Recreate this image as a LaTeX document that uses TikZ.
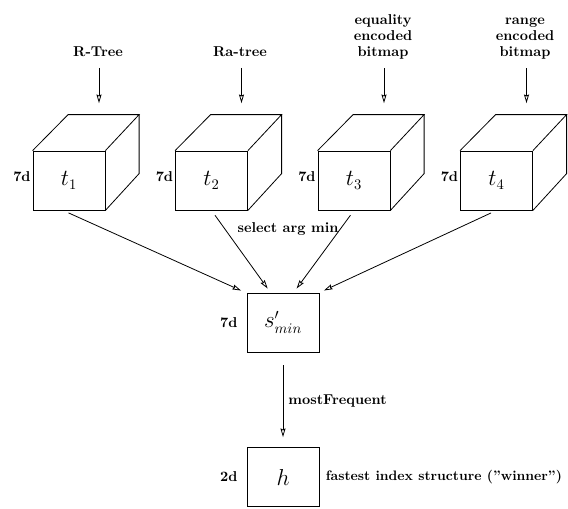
\documentclass[tikz,border=0pt]{standalone}
\usetikzlibrary{arrows.meta}
\begin{document}
\begin{tikzpicture}[x=0.75pt,y=-0.75pt,
  line width=0.6pt,
  face/.style={draw,rectangle,inner sep=0pt,minimum width=54pt,minimum height=44.25pt,font=\fontsize{16}{18}\selectfont},
  lbl/.style={font=\fontsize{10.7}{12}\selectfont\bfseries,inner sep=0pt,align=center},
  arr/.style={-{Stealth[open,length=6.5pt,width=3.8pt,inset=0.8pt]}},
  cubeside/.style={line join=miter}]
\useasboundingbox (0,0) rectangle (568,508);

% cubes
\foreach \i/\cx in {1/69,2/211.5,3/354,4/496.5}{
  \node[face] (f\i) at (\cx,180.5) {$t_{\i}$};
  \draw[cubeside] (f\i.north west) -- ++(35.5,-36) -- ++(71,0) coordinate (bne\i) -- (f\i.north east);
  \draw[cubeside] (bne\i) -- ++(0,59) -- (f\i.south east);
  \node[lbl,anchor=east] (d\i) at ([xshift=-1.2pt,yshift=3.2pt]f\i.west) {7d};
  \coordinate (top\i) at ([xshift=22.5pt,yshift=35.6pt]f\i.north);
}

% top labels
\node[lbl,anchor=south] (r1) at (98,57) {R-Tree};
\node[lbl,anchor=south] (r2) at (240,57) {Ra-tree};
\node[lbl,anchor=south] (r3) at (383,60) {equality\\encoded\\bitmap};
\node[lbl,anchor=south] (r4) at (525,60) {range\\encoded\\bitmap};

\draw[arr,shorten <=8.2pt] (r1.south -| top1) -- (top1);
\draw[arr,shorten <=8.2pt] (r2.south -| top2) -- (top2);
\draw[arr,shorten <=6pt] (r3.south -| top3) -- (top3);
\draw[arr,shorten <=6pt] (r4.south -| top4) -- (top4);

% min box
\node[face] (s) at (283,322.5) {$s'_{min}$};
\node[lbl,anchor=east] (ds) at ([xshift=-6.5pt]s.west) {7d};

\draw[arr,shorten <=4.5pt,shorten >=3.75pt] ([xshift=-4.5pt]f1.south) -- ([xshift=-0.75pt]s.north west);
\draw[arr,shorten <=4.5pt,shorten >=3.75pt] (f2.south) -- ([xshift=18pt]s.north west);
\draw[arr,shorten <=4.5pt,shorten >=3.75pt] (f3.south) -- ([xshift=35.25pt]s.north west);
\draw[arr,shorten <=4.5pt,shorten >=3.75pt] (f4.south) -- ([xshift=0pt]s.north east);

\node[lbl] (sel) at (288,229) {select arg min};

% winner
\node[face] (h) at (283,477) {$h$};
\node[lbl,anchor=east] (dh) at ([xshift=-6.5pt]h.west) {2d};
\node[lbl,anchor=west,font=\fontsize{10.3}{12}\selectfont\bfseries] (win) at ([xshift=4.5pt]h.east) {fastest index structure ("winner")};

\draw[arr,shorten <=9.75pt,shorten >=7.5pt] (s.south) -- (h.north);
\node[lbl,anchor=west] (mf) at (288,401) {mostFrequent};
\end{tikzpicture}
\end{document}
